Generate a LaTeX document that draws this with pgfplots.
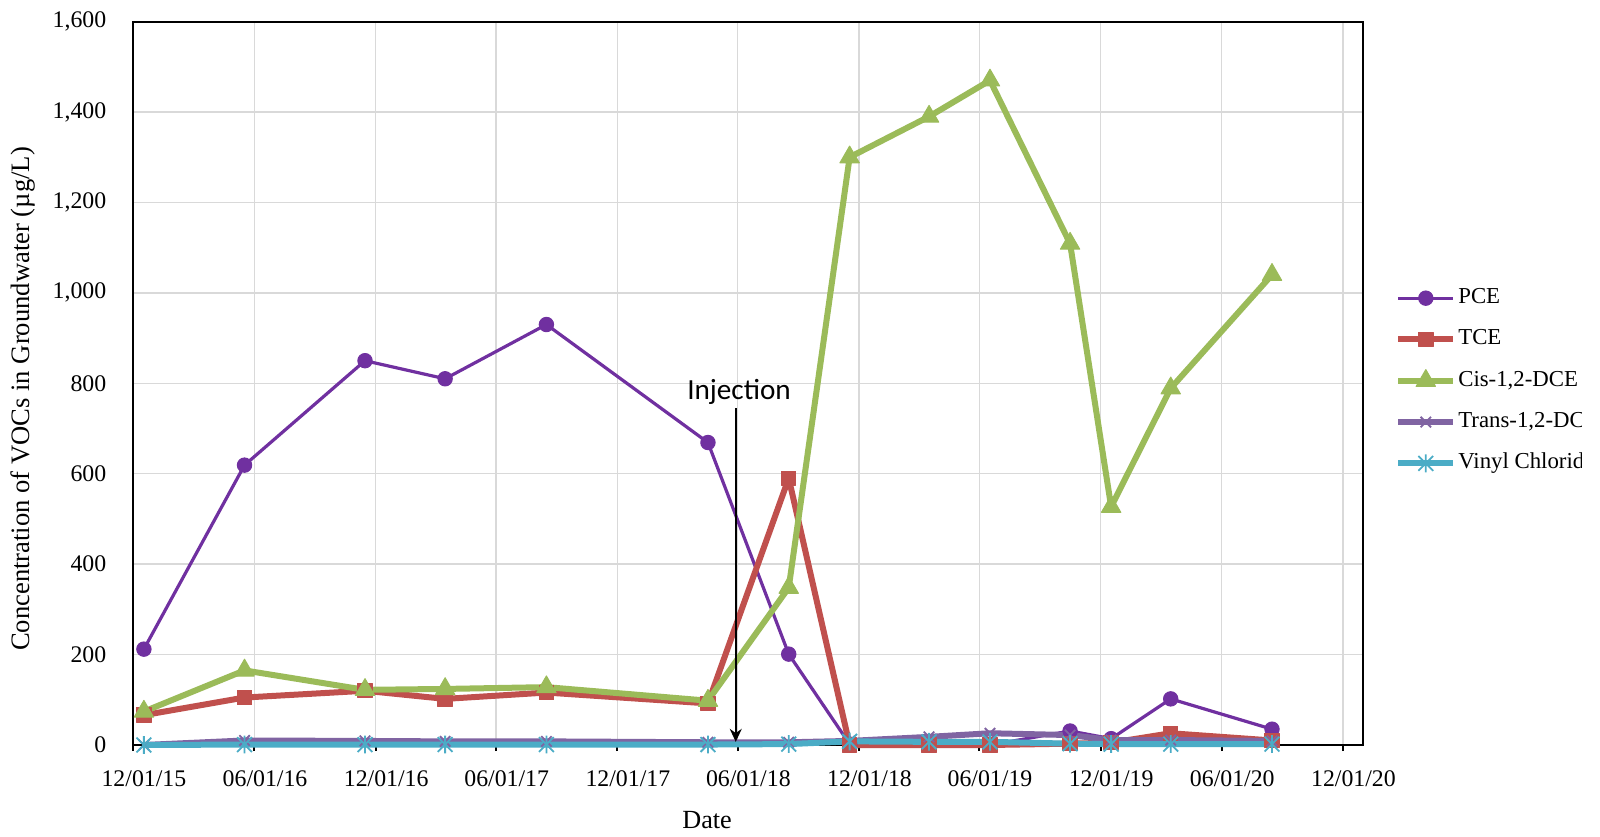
\documentclass[border=0pt]{standalone}
\usepackage{pgfplots}
\usepackage{pgfplotstable}
\pgfplotsset{compat=1.18}
\usetikzlibrary{arrows.meta}
\usepackage{fontspec}
\setmainfont{Liberation Serif}
\newfontfamily\carlito{Carlito}
\definecolor{cPCE}{HTML}{7030A0}
\definecolor{cTCE}{HTML}{C0504D}
\definecolor{cCIS}{HTML}{9BBB59}
\definecolor{cTRANS}{HTML}{8064A2}
\definecolor{cVC}{HTML}{4BACC6}
\definecolor{gridgray}{HTML}{D9D9D9}
\pgfdeclareplotmark{xstar}{%
  \pgfpathmoveto{\pgfpoint{-\pgfplotmarksize}{-\pgfplotmarksize}}%
  \pgfpathlineto{\pgfpoint{\pgfplotmarksize}{\pgfplotmarksize}}%
  \pgfpathmoveto{\pgfpoint{-\pgfplotmarksize}{\pgfplotmarksize}}%
  \pgfpathlineto{\pgfpoint{\pgfplotmarksize}{-\pgfplotmarksize}}%
  \pgfpathmoveto{\pgfpoint{0pt}{-1.2\pgfplotmarksize}}%
  \pgfpathlineto{\pgfpoint{0pt}{1.2\pgfplotmarksize}}%
  \pgfusepathqstroke}
% day = days since 12/01/15
\pgfplotstableread{
day  PCE  TCE  CIS   TRANS VC
16   212  66   74    0     0
168  619  105  165   10    1
350  850  120  122   9     1
471  810  102  124   8     1
624  930  116  128   8     1
868  669  92   98    6     1
990  201  590  348   6     2
1082 2    0    1300  9     8
1202 0    0    1390  18    7
1294 0    0    1470  26    7
1415 31   3    1109  22    3
1477 14   5    527   11    2
1567 102  26   789   11    2
1720 35   10   1040  9     2
}\vocdata
\begin{document}
\begin{tikzpicture}
\begin{axis}[
  at={(66.65pt,45.5pt)}, anchor=south west,
  width=614.7pt, height=361.7pt, scale only axis,
  xmin=0, xmax=1857, ymin=0, ymax=1600,
  clip=false,
  xtick={0,183,366,548,731,913,1096,1278,1461,1644,1827},
  xticklabels={12/01/15,06/01/16,12/01/16,06/01/17,12/01/17,06/01/18,12/01/18,06/01/19,12/01/19,06/01/20,12/01/20},
  ytick={0,200,...,1600},
  scaled y ticks=false,
  /pgf/number format/.cd, 1000 sep={,}, assume math mode=true,
  /pgfplots/.cd,
  grid=major,
  grid style={color=gridgray, line width=0.75pt},
  axis line style={black, line width=1pt},
  tick align=outside,
  xtick pos=bottom, ytick pos=left,
  major tick length=3pt,
  xtick style={black, line width=1pt},
  ytick style={draw=none},
  ticklabel style={font=\fontsize{11.9}{14}\selectfont},
  xticklabel style={anchor=base, inner sep=0pt, yshift=-17.85pt, xshift=5.3pt},
  yticklabel style={anchor=east, inner sep=0pt, xshift=-10.3pt},
  xlabel={Date},
  ylabel={Concentration of VOCs in Groundwater (µg/L)},
  every axis x label/.style={at={(axis description cs:0.4667,-0.1037)}, anchor=center, font=\fontsize{13.1}{15}\selectfont},
  every axis y label/.style={at={(axis description cs:-0.0901,0.4784)}, rotate=90, anchor=center, font=\fontsize{13.3}{15}\selectfont},
  legend style={at={(axis description cs:1.0262,0.5035)}, anchor=west, draw=none, fill=none, inner sep=0pt,
    font=\fontsize{11.4}{13}\selectfont, row sep=8.15pt,
    nodes={text height=8pt, text depth=2.5pt, inner sep=1pt},
    /tikz/every even column/.append style={column sep=0pt}},
  legend cell align=left,
  legend image code/.code={\draw[mark repeat=2,mark phase=2,#1] plot coordinates {(0pt,0pt)(13.75pt,0pt)(27.5pt,0pt)};},
]
\addplot[color=cPCE, line width=1.6pt, line join=round, mark=*, mark size=3.6pt, mark options={solid, line width=0.5pt, fill=cPCE}] table[x=day, y=PCE] {\vocdata};
\addlegendentry{PCE}
\addplot[color=cTCE, line width=3pt, line join=round, mark=square*, mark size=3.6pt, mark options={solid, line width=0.5pt, fill=cTCE}] table[x=day, y=TCE] {\vocdata};
\addlegendentry{TCE}
\addplot[color=cCIS, line width=3pt, line join=round, mark=triangle*, mark size=5.6pt, mark options={solid, line width=0.5pt, fill=cCIS}] table[x=day, y=CIS] {\vocdata};
\addlegendentry{Cis-1,2-DCE}
\addplot[color=cTRANS, line width=3pt, line join=round, mark=x, mark size=3.7pt, mark options={solid, line width=0.9pt}] table[x=day, y=TRANS] {\vocdata};
\addlegendentry{Trans-1,2-DCE}
\addplot[color=cVC, line width=3pt, line join=round, mark=xstar, mark size=3.7pt, mark options={solid, line width=0.9pt}] table[x=day, y=VC] {\vocdata};
\addlegendentry{Vinyl Chloride}
\draw[-{Stealth[length=6.5pt,width=6pt]}, line width=0.8pt, black] (axis cs:910,745) -- (axis cs:910,7);
\node[font=\carlito\fontsize{14.6}{17}\selectfont, anchor=center] at (axis cs:915,781) {Injection};
\end{axis}
% the legend is cut by the chart's edge in the original
\fill[white] (791pt,0) rectangle (800pt,418pt);
\pgfresetboundingbox
\path[use as bounding box] (0,0) rectangle (800pt,418pt);
\end{tikzpicture}
\end{document}
